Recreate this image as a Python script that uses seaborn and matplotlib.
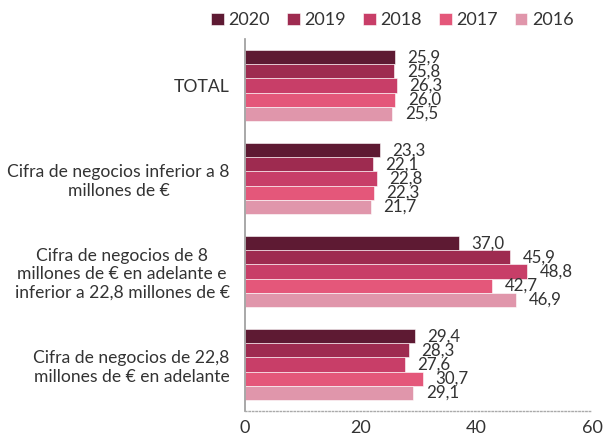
import matplotlib
matplotlib.use("Agg")
import matplotlib.pyplot as plt
import seaborn as sns
import pandas as pd
import numpy as np

categories = [
    "TOTAL",
    "Cifra de negocios inferior a 8\nmillones de €",
    "Cifra de negocios de 8\nmillones de € en adelante e\ninferior a 22,8 millones de €",
    "Cifra de negocios de 22,8\nmillones de € en adelante",
]
years = ["2020", "2019", "2018", "2017", "2016"]
v2020 = [25.9, 23.3, 37.0, 29.4]
v2019 = [25.8, 22.1, 45.9, 28.3]
v2018 = [26.3, 22.8, 48.8, 27.6]
v2017 = [26.0, 22.3, 42.7, 30.7]
v2016 = [25.5, 21.7, 46.9, 29.1]
colors = ["#5e1a33", "#9e2b50", "#c83e68", "#e4577a", "#e096ab"]
x_ticks = [0, 20, 40, 60]

series = [v2020, v2019, v2018, v2017, v2016]
rows = []
for y, vals in zip(years, series):
    for c, v in zip(categories, vals):
        rows.append({"cat": c, "year": y, "value": v})
df = pd.DataFrame(rows)

sns.set_theme(style="white")
plt.rcParams["font.family"] = ["Lato", "DejaVu Sans"]
txt = "#333333"

fig = plt.figure(figsize=(6.05, 4.38), dpi=100)
ax = fig.add_axes([0.405, 0.0616, 0.5735, 0.8494])

sns.barplot(data=df, y="cat", x="value", hue="year", hue_order=years,
            order=categories, palette=colors, saturation=1, orient="h",
            width=0.76, edgecolor="white", linewidth=0.4, ax=ax, legend=True)

for cont in ax.containers:
    labels = [f"{b.get_width():.1f}".replace(".", ",") for b in cont]
    ax.bar_label(cont, labels=labels, padding=9, fontsize=12.2, color=txt)

ax.set_xlim(0, 60)
ax.set_ylim(len(categories) - 0.5, -0.5)
ax.set_xticks(x_ticks)
ax.set_xticklabels([str(t) for t in x_ticks], fontsize=13, color=txt)
ax.set_yticks(range(len(categories)))
ax.set_yticklabels(categories, fontsize=12.6, color=txt, ha="right",
                   multialignment="center")
ax.set_yticks(np.arange(-0.5, len(categories), 1), minor=True)
ax.tick_params(axis="y", which="major", length=0, pad=11)
ax.tick_params(axis="y", which="minor", length=5, color="#999999", width=1.2,
               direction="out")
ax.tick_params(axis="x", which="major", length=5, color="#aaaaaa", width=1,
               direction="inout", pad=4)
ax.set_xlabel("")
ax.set_ylabel("")

for s in ["top", "right"]:
    ax.spines[s].set_visible(False)
ax.spines["left"].set_color("#999999")
ax.spines["left"].set_linewidth(1.2)
ax.spines["bottom"].set_color("#aaaaaa")
ax.spines["bottom"].set_linestyle((0, (1, 1.5)))
ax.spines["bottom"].set_linewidth(1)

h, l = ax.get_legend_handles_labels()
ax.legend(h, l, loc="upper center", bbox_to_anchor=(0.425, 1.115), ncol=5,
          frameon=False, fontsize=13, handlelength=0.7, handleheight=0.7,
          handletextpad=0.25, columnspacing=0.95, labelcolor=txt)

fig.savefig("out.png", dpi=100)
